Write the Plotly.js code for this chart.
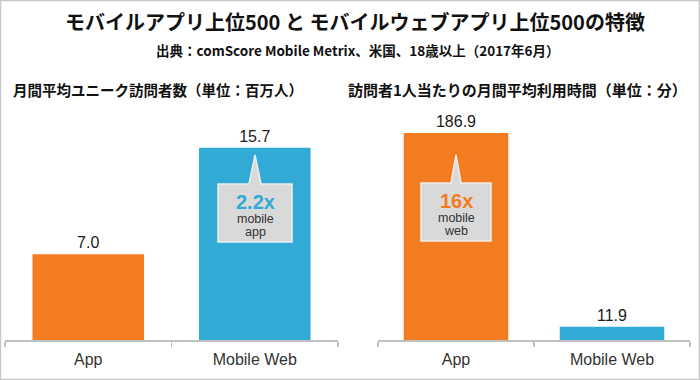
<!DOCTYPE html>
<html>
<head>
<meta charset="utf-8">
<script src="https://cdn.plot.ly/plotly-3.0.1.min.js"></script>
<style>html,body{margin:0;padding:0;background:#fff;}#chart{width:700px;height:380px;}</style>
</head>
<body>
<div id="chart"></div>
<script>
// ---- data ----
const categories = ["App", "Mobile Web"];
const visitors = [7.0, 15.7];        // 月間平均ユニーク訪問者数（百万人）
const minutes = [186.9, 11.9];       // 訪問者1人当たりの月間平均利用時間（分）
const barColors = ["#F47C20", "#31AAD5"];
const mainTitle = "モバイルアプリ上位500 と モバイルウェブアプリ上位500の特徴";
const subTitle = "出典：comScore Mobile Metrix、米国、18歳以上（2017年6月）";
const leftTitle = "月間平均ユニーク訪問者数（単位：百万人）";
const rightTitle = "訪問者1人当たりの月間平均利用時間（単位：分）";
const leftCallout = ["2.2x", "mobile", "app"];
const rightCallout = ["16x", "mobile", "web"];

// ---- layout helpers (pixel -> paper) ----
const W = 700, H = 380;
const px = x => x / W;
const py = y => 1 - y / H;
const CJK = "'Noto Sans CJK JP', 'Noto Sans', sans-serif";
const LAT = "'Liberation Sans', Arial, sans-serif";

const trLeft = {
  type: "bar", x: categories, y: visitors, xaxis: "x", yaxis: "y",
  marker: {color: barColors, line: {width: 0}}, width: 0.67,
  texttemplate: "%{y:.1f}", textposition: "outside", cliponaxis: false,
  textfont: {family: LAT, size: 16, color: "#1a1a1a"}, hoverinfo: "none"
};
const trRight = {
  type: "bar", x: categories, y: minutes, xaxis: "x2", yaxis: "y2",
  marker: {color: barColors, line: {width: 0}}, width: 0.67,
  texttemplate: "%{y:.1f}", textposition: "outside", cliponaxis: false,
  textfont: {family: LAT, size: 16, color: "#1a1a1a"}, hoverinfo: "none"
};

const xCommon = {
  type: "category", showline: true, linecolor: "#BFBFBF", linewidth: 1.5,
  ticks: "outside", tickson: "boundaries", ticklen: 5, tickcolor: "#BFBFBF", tickwidth: 1.5,
  ticklabelstandoff: 4,
  tickfont: {family: LAT, size: 16, color: "#333"}, showgrid: false, zeroline: false,
  range: [-0.5, 1.5], fixedrange: true
};
const yCommon = {visible: false, showgrid: false, zeroline: false, fixedrange: true};

function callout(cx, top, bottom, halfW, apexY, baseHalf) {
  const l = px(cx - halfW), r = px(cx + halfW), t = py(top), b = py(bottom);
  const p = `M ${l} ${b} L ${l} ${t} L ${px(cx - baseHalf)} ${t} L ${px(cx)} ${py(apexY)} L ${px(cx + baseHalf)} ${t} L ${r} ${t} L ${r} ${b} Z`;
  return {type: "path", xref: "paper", yref: "paper", path: p,
          fillcolor: "#D9D9D9", line: {color: "#EDEDED", width: 1.5}, layer: "above"};
}

const shapes = [
  {type: "rect", xref: "paper", yref: "paper", x0: px(0.5), x1: px(699.5), y0: py(379.5), y1: py(0.5),
   line: {color: "#C8C8C8", width: 1.5}, fillcolor: "rgba(0,0,0,0)"},
  callout(255, 184, 242, 37, 155, 6),
  callout(456, 183, 241, 35, 155, 5)
];

function ann(text, x, y, size, color, bold, family, anchor) {
  return {text: bold ? "<b>" + text + "</b>" : text, xref: "paper", yref: "paper",
          x: px(x), y: py(y), xanchor: anchor || "center", yanchor: "middle", showarrow: false,
          font: {family: family, size: size, color: color}};
}

const annotations = [
  ann(mainTitle, 355, 22, 20, "#111", true, CJK),
  ann(subTitle, 358, 50, 13.5, "#111", true, CJK),
  ann(leftTitle, 11, 90, 14.5, "#111", true, CJK, "left"),
  ann(rightTitle, 346, 90, 15, "#111", true, CJK, "left"),
  ann(leftCallout[0], 255, 202, 20, "#31AAD5", true, LAT),
  ann(leftCallout[1], 255, 219, 12.5, "#333", false, LAT),
  ann(leftCallout[2], 255, 232, 12.5, "#333", false, LAT),
  ann(rightCallout[0], 456, 201, 20, "#F47C20", true, LAT),
  ann(rightCallout[1], 456, 218, 12.5, "#333", false, LAT),
  ann(rightCallout[2], 456, 231, 12.5, "#333", false, LAT)
];

const yBot = py(340), yTop = py(100);
const layout = {
  width: W, height: H, margin: {l: 0, r: 0, t: 0, b: 0},
  paper_bgcolor: "#fff", plot_bgcolor: "#fff", showlegend: false, bargap: 0.33,
  xaxis: Object.assign({}, xCommon, {domain: [px(5), px(338)], anchor: "y"}),
  xaxis2: Object.assign({}, xCommon, {domain: [px(378), px(690)], anchor: "y2"}),
  yaxis: Object.assign({}, yCommon, {domain: [yBot, yTop], range: [0, 240 / 12.25], anchor: "x"}),
  yaxis2: Object.assign({}, yCommon, {domain: [yBot, yTop], range: [0, 240 / 1.1076], anchor: "x2"}),
  shapes: shapes, annotations: annotations
};

Plotly.newPlot("chart", [trLeft, trRight], layout, {displayModeBar: false, staticPlot: true});
</script>
</body>
</html>
